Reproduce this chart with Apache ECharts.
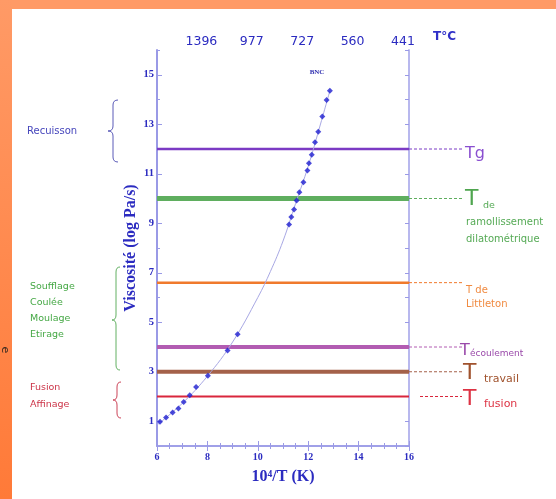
<!DOCTYPE html>
<html><head><meta charset="utf-8">
<script src="https://cdn.jsdelivr.net/npm/echarts@6/dist/echarts.min.js"></script>
<style>html,body{margin:0;padding:0;background:#fff}#c{width:556px;height:499px}</style>
</head><body><div id="c"></div>
<script>
// ---- data ----
const xMin = 6, xMax = 16;
const yMin = 0, yMax = 16;
const yLabelValues = [1, 3, 5, 7, 9, 11, 13, 15];
const yMinorValues = [0, 2, 4, 6, 8, 10, 12, 14, 16];
const yAllTicks = [0,1,2,3,4,5,6,7,8,9,10,11,12,13,14,15,16];
const topTickValues = [8, 10, 12, 14, 16];
const topTickLabels = ['1396', '977', '727', '560', '441'];
const bncX = [6.12, 6.36, 6.62, 6.85, 7.06, 7.30, 7.55, 8.02, 8.80, 9.20, 11.24, 11.33, 11.44, 11.54, 11.65, 11.81, 11.97, 12.03, 12.14, 12.27, 12.40, 12.56, 12.73, 12.86];
const bncY = [0.98, 1.15, 1.35, 1.52, 1.78, 2.05, 2.38, 2.84, 3.86, 4.52, 8.95, 9.25, 9.56, 9.92, 10.25, 10.66, 11.13, 11.42, 11.77, 12.27, 12.70, 13.31, 13.98, 14.35];
const curveX = [6.0, 7.0, 8.0, 9.0, 10.0, 10.5, 11.0, 11.5, 12.0, 12.5, 12.86];
const curveY = [0.85, 1.72, 2.82, 4.2, 6.0, 7.05, 8.28, 9.8, 11.3, 13.05, 14.35];
const levelNames = ['Tg', 'T ramollissement', 'T Littleton', 'T écoulement', 'T travail', 'T fusion'];
const levelValues = [12, 10, 6.6, 4, 3, 2];
const recuissonLabels = ['Recuisson'];
const formageLabels = ['Soufflage', 'Coulée', 'Moulage', 'Etirage'];
const fusionLabels = ['Fusion', 'Affinage'];

// ---- styles ----
const levelColors = ['#7B3AC4', '#5FAE5F', '#F07A2C', '#B25CB2', '#A4614A', '#D9263C'];
const levelWidths = [2.5, 5, 2.5, 4, 4, 2];
const axisColor = '#9A9AE6';
const labelBlue = '#2B2BC0';
const serif = '"Liberation Serif", "DejaVu Serif", serif';
const sans = '"DejaVu Sans", "Liberation Sans", sans-serif';

const chart = echarts.init(document.getElementById('c'));

const series = [];
levelValues.forEach((v, i) => {
  series.push({
    type: 'line', name: levelNames[i], data: [[xMin, v], [xMax, v]],
    symbol: 'none', silent: true, z: 1,
    lineStyle: { color: levelColors[i], width: levelWidths[i] }
  });
});
series.push({
  type: 'line', name: 'fit', data: curveX.map((x, i) => [x, curveY[i]]),
  smooth: 0.4, symbol: 'none', z: 2,
  lineStyle: { color: '#A8A8E4', width: 1 }
});
series.push({
  type: 'scatter', name: 'BNC', data: bncX.map((x, i) => [x, bncY[i]]),
  symbol: 'diamond', symbolSize: 6, z: 3,
  itemStyle: { color: '#1E1ED0' }
});

chart.setOption({
  animation: false,
  backgroundColor: '#ffffff',
  grid: { left: 157, right: 147, top: 50, bottom: 53 },
  xAxis: [{
    type: 'value', position: 'bottom', min: xMin, max: xMax, interval: 2,
    axisLine: { lineStyle: { color: axisColor, width: 1.5 } },
    axisTick: { inside: true, length: 5, lineStyle: { color: axisColor } },
    minorTick: { show: true, splitNumber: 4, length: 3, lineStyle: { color: axisColor } },
    splitLine: { show: false },
    axisLabel: { color: labelBlue, fontFamily: serif, fontWeight: 'bold', fontSize: 10, margin: 6 },
    name: '10⁴/T (K)', nameLocation: 'middle', nameGap: 23,
    nameTextStyle: { color: labelBlue, fontFamily: serif, fontWeight: 'bold', fontSize: 16 }
  }, {
    type: 'value', position: 'top', min: xMin, max: xMax, interval: 2,
    axisLine: { lineStyle: { color: axisColor, width: 1.5 } },
    axisTick: { inside: true, length: 5, lineStyle: { color: axisColor } },
    minorTick: { show: true, splitNumber: 4, length: 3, lineStyle: { color: axisColor } },
    splitLine: { show: false },
    axisLabel: {
      customValues: topTickValues,
      formatter: v => topTickLabels[topTickValues.indexOf(v)] || '',
      color: labelBlue, fontFamily: sans, fontSize: 12.5, margin: 2, padding: [0, 12, 0, 0]
    }
  }],
  yAxis: [{
    type: 'value', position: 'left', min: yMin, max: yMax,
    axisLine: { lineStyle: { color: axisColor, width: 2 } },
    axisTick: { inside: true, length: 5, customValues: yLabelValues, lineStyle: { color: axisColor } },
    splitLine: { show: false },
    axisLabel: { customValues: yLabelValues, color: labelBlue, fontFamily: serif, fontWeight: 'bold', fontSize: 10.5, margin: 3 },
    name: 'Viscosité (log Pa/s)', nameLocation: 'middle', nameGap: 18, nameRotate: 90,
    nameTextStyle: { color: labelBlue, fontFamily: serif, fontWeight: 'bold', fontSize: 16 }
  }, {
    type: 'value', position: 'left', min: yMin, max: yMax,
    axisLine: { show: false },
    axisTick: { inside: true, length: 3, customValues: yMinorValues, lineStyle: { color: axisColor } },
    splitLine: { show: false },
    axisLabel: { show: false }
  }, {
    type: 'value', position: 'right', min: yMin, max: yMax,
    axisLine: { show: true, lineStyle: { color: '#B8B8EE', width: 2 } },
    axisTick: { inside: true, length: 4, customValues: yAllTicks, lineStyle: { color: axisColor } },
    splitLine: { show: false },
    axisLabel: { show: false }
  }],
  series: series.map(s => Object.assign(s, { xAxisIndex: 0, yAxisIndex: 0 }))
});

// ---- annotations ----
const g = [];
g.push({ type: 'rect', shape: { x: 0, y: 0, width: 556, height: 9 }, style: { fill: '#FF9A66' }, z: 100 });
g.push({ type: 'rect', shape: { x: 0, y: 0, width: 12, height: 499 },
  style: { fill: new echarts.graphic.LinearGradient(0, 0, 0, 1, [{ offset: 0, color: '#FF9A66' }, { offset: 1, color: '#FF7A38' }]) }, z: 100 });
g.push({ type: 'text', x: 5, y: 350, rotation: -Math.PI / 2, style: { text: 'e', fill: '#3a2a20', font: '11px ' + sans, textAlign: 'center', textVerticalAlign: 'middle' }, z: 101 });

function txt(t, x, y, size, color, font, weight) {
  g.push({ type: 'text', x: x, y: y, style: { text: t, fill: color, font: (weight ? weight + ' ' : '') + size + 'px ' + (font || sans), textVerticalAlign: 'middle' }, z: 50 });
}
function brace(xTip, xMid, xEnd, top, mid, bottom, color) {
  const r = 5;
  const ls = { stroke: color, lineWidth: 1, fill: null };
  g.push({ type: 'bezierCurve', shape: { x1: xEnd, y1: top, cpx1: xMid, cpy1: top, x2: xMid, y2: top + r }, style: ls, z: 50 });
  g.push({ type: 'line', shape: { x1: xMid, y1: top + r, x2: xMid, y2: mid - r }, style: ls, z: 50 });
  g.push({ type: 'bezierCurve', shape: { x1: xMid, y1: mid - r, cpx1: xMid, cpy1: mid, x2: xTip, y2: mid }, style: ls, z: 50 });
  g.push({ type: 'bezierCurve', shape: { x1: xTip, y1: mid, cpx1: xMid, cpy1: mid, x2: xMid, y2: mid + r }, style: ls, z: 50 });
  g.push({ type: 'line', shape: { x1: xMid, y1: mid + r, x2: xMid, y2: bottom - r }, style: ls, z: 50 });
  g.push({ type: 'bezierCurve', shape: { x1: xMid, y1: bottom - r, cpx1: xMid, cpy1: bottom, x2: xEnd, y2: bottom }, style: ls, z: 50 });
}

// left annotations
txt(recuissonLabels[0], 27, 131, 10, '#4646BC');
brace(108, 113, 118, 100, 131, 162, '#5A5AB8');
formageLabels.forEach((t, i) => txt(t, 30, 287 + i * 16, 9.5, '#45A845'));
brace(112, 116, 120, 267, 320, 370, '#62B062');
fusionLabels.forEach((t, i) => txt(t, 30, 388 + i * 17, 9.5, '#CC3448'));
brace(113, 117, 121, 382, 400, 418, '#CC4458');

// top-right unit
txt('T°C', 433, 37, 12, '#3030C8', sans, 'bold');

// BNC label
const pB = chart.convertToPixel({ xAxisIndex: 0, yAxisIndex: 0 }, [12.35, 15.1]);
g.push({ type: 'text', x: pB[0], y: pB[1], style: { text: 'BNC', fill: '#3030B0', font: 'bold 7px ' + serif, textAlign: 'center', textVerticalAlign: 'middle' }, z: 50 });

// right-side dashed leaders and labels
const py = levelValues.map(v => chart.convertToPixel({ xAxisIndex: 0, yAxisIndex: 0 }, [xMax, v]));
py.forEach((p, i) => {
  const x0 = i === 5 ? p[0] + 11 : p[0];
  g.push({ type: 'line', shape: { x1: x0, y1: p[1], x2: p[0] + 53, y2: p[1] },
    style: { stroke: levelColors[i], lineWidth: 1, lineDash: [3, 2] }, z: 50 });
});
const yy = py.map(p => p[1]);
txt('Tg', 465, yy[0] + 5, 16, '#8A4FD0');
txt('T', 465, yy[1] + 1, 22, '#4FA54F');
txt('de', 483, yy[1] + 7, 9.5, '#55AA55');
txt('ramollissement', 466, yy[1] + 24, 10, '#55AA55');
txt('dilatométrique', 466, yy[1] + 41, 10, '#55AA55');
txt('T de', 466, yy[2] + 8, 10, '#F08A40');
txt('Littleton', 466, yy[2] + 22, 10, '#F08A40');
txt('T', 460, yy[3] + 4, 16, '#9A4AAA');
txt('écoulement', 470, yy[3] + 7, 9, '#9A4AAA');
txt('T', 463, yy[4] + 2, 22, '#A0522D');
txt('travail', 484, yy[4] + 7, 11, '#A0522D');
txt('T', 463, yy[5] + 3, 22, '#DD3344');
txt('fusion', 484, yy[5] + 8, 11, '#DD3344');

chart.setOption({ graphic: { elements: g } });
</script></body></html>
